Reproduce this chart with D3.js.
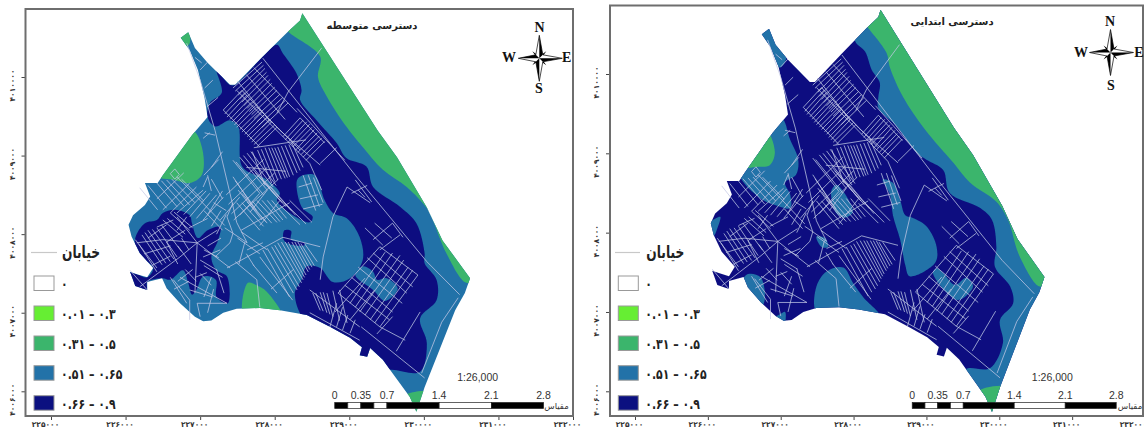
<!DOCTYPE html>
<html>
<head>
<meta charset="utf-8">
<script src="https://cdn.jsdelivr.net/npm/d3@7"></script>
<style>
  html, body { margin: 0; padding: 0; background: #fff; overflow: hidden; }
  text { font-family: "DejaVu Sans", sans-serif; }
</style>
</head>
<body>
<svg id="chart" width="1144" height="429"></svg>
<script>
// ---- data: all map vertices are [km east of 225000, km north of 4006000]
const eastTicks = [0, 1, 2, 3, 4, 5, 6, 7];
const eastLabels = ["۲۲۵۰۰۰", "۲۲۶۰۰۰", "۲۲۷۰۰۰", "۲۲۸۰۰۰", "۲۲۹۰۰۰", "۲۳۰۰۰۰", "۲۳۱۰۰۰", "۲۳۲۰۰۰"];
const northTicks = [0, 1, 2, 3, 4];
const northLabels = ["۴۰۰۶۰۰۰", "۴۰۰۷۰۰۰", "۴۰۰۸۰۰۰", "۴۰۰۹۰۰۰", "۴۰۱۰۰۰۰"];

const classLabels = ["۰", "۰.۰۱ – ۰.۳", "۰.۳۱ – ۰.۵", "۰.۵۱ – ۰.۶۵", "۰.۶۶ – ۰.۹"];
const classColors = ["#ffffff", "#66ee33", "#3bb56c", "#2272a8", "#0b1080"];
const scaleBreaks = [0, 0.175, 0.35, 0.525, 0.7, 1.4, 2.1, 2.8];
const scaleLabels = [0, 0.35, 0.7, 1.4, 2.1, 2.8];

const outline = [[3.37,4.81],[4.38,3.32],[4.64,2.98],[5.04,2.34],[5.25,1.92],[5.62,1.44],[5.55,1.25],[5.42,1.03],[5.21,.53],[5.01,.05],[4.90,-.26],[4.81,-.07],[4.58,.23],[4.45,.40],[4.28,.55],[4.24,.44],[4.14,.46],[4.17,.56],[4.01,.68],[3.74,.82],[3.43,.97],[3.07,1.03],[2.80,1.06],[2.49,1.05],[2.31,1.00],[2.15,.90],[2.04,.89],[1.93,.95],[1.73,1.12],[1.55,1.31],[1.49,1.44],[1.29,1.39],[1.29,1.29],[1.13,1.34],[1.06,1.52],[1.15,1.49],[1.29,1.45],[1.37,1.57],[1.19,1.76],[1.08,1.97],[1.04,2.12],[1.10,2.24],[1.26,2.37],[1.33,2.48],[1.26,2.65],[1.37,2.65],[1.43,2.65],[1.50,2.75],[1.89,3.26],[2.10,3.49],[2.06,3.73],[1.97,4.09],[1.86,4.34],[1.74,4.50],[1.84,4.57],[1.93,4.37],[2.10,4.18],[2.40,3.90],[2.47,3.90],[2.84,4.26],[3.18,4.58],[3.34,4.72]];

// secondary access panel, painted over a blue base
const midNavyMain = [[2.22,4.09],[2.40,3.90],[2.47,3.90],[2.84,4.26],[3.03,4.41],[3.11,4.30],[3.29,4.05],[3.36,3.83],[3.34,3.71],[3.56,3.45],[3.83,3.16],[3.96,2.97],[4.23,2.86],[4.32,2.60],[4.68,2.35],[4.90,2.14],[5.01,1.76],[5.01,1.63],[5.17,1.42],[5.17,1.16],[4.95,.93],[5.04,.61],[4.95,.25],[4.61,.27],[4.45,.30],[4.28,.45],[4.14,.36],[4.01,.58],[3.74,.72],[3.40,.90],[3.27,1.25],[3.36,1.42],[3.43,1.59],[3.61,1.57],[3.78,1.39],[4.01,1.44],[4.18,1.67],[4.14,1.96],[3.97,2.20],[3.78,2.27],[3.67,2.43],[3.54,2.75],[3.38,2.75],[3.30,2.69],[3.36,2.35],[3.51,2.22],[3.47,2.15],[3.20,2.27],[3.03,2.43],[3.07,2.52],[2.90,2.69],[2.57,2.85],[2.51,3.37],[2.40,3.45],[2.20,3.37],[2.10,3.49],[2.13,3.67],[2.29,3.80]];
const midNavyWest = [[1.13,1.95],[1.26,2.14],[1.42,2.18],[1.50,2.27],[1.66,2.31],[1.86,2.24],[1.89,2.14],[1.97,1.95],[2.10,2.05],[2.27,2.09],[2.24,1.92],[2.15,1.71],[2.22,1.54],[2.36,1.46],[2.37,1.12],[2.22,1.20],[2.21,1.42],[2.04,1.46],[1.95,1.29],[1.89,1.23],[1.84,1.38],[1.77,1.54],[1.60,1.42],[1.49,1.44],[1.29,1.39],[1.29,1.25],[1.13,1.30],[1.00,1.52],[1.15,1.49],[1.29,1.45],[1.37,1.57],[1.15,1.76]];
const midNavySmall = [[3.13,2.05],[3.22,2.04],[3.22,1.93],[3.40,1.89],[3.40,1.86],[3.20,1.87],[3.12,1.93]];
const midBluePatch = [[4.18,1.59],[4.08,1.48],[4.32,1.29],[4.48,1.15],[4.65,1.31],[4.50,1.44],[4.37,1.42],[4.32,1.52]];
const midGreenNE = [[3.45,4.90],[4.45,3.40],[4.75,3.00],[5.15,2.36],[5.35,1.92],[5.72,1.44],[5.57,1.38],[5.30,1.76],[5.12,2.18],[5.04,2.33],[4.77,2.60],[4.45,2.82],[4.18,3.11],[3.96,3.37],[3.70,3.75],[3.58,4.00],[3.61,4.26],[3.18,4.58],[3.10,4.70]];
const midGreenNW = [[1.93,3.30],[2.04,3.03],[2.02,2.75],[1.86,2.65],[1.66,2.69],[1.40,2.75],[1.80,3.32]];
const midGreenS = [[2.64,1.38],[2.76,1.35],[2.89,1.27],[3.10,.95],[2.80,.96],[2.58,.96]];
const midGreenSpike = [[1.70,4.55],[1.84,4.62],[1.86,4.43],[1.81,4.39]];
const midGreenTip = [[4.70,-.08],[5.10,-.01],[4.90,-.35]];

// primary access panel, painted over a navy base
const priBlueBand = [[3.02,4.42],[3.10,4.65],[3.37,4.90],[4.45,3.40],[4.75,3.00],[5.15,2.36],[5.35,1.92],[5.72,1.44],[5.65,1.25],[5.52,1.03],[5.31,.53],[5.11,.05],[4.90,-.35],[4.71,-.07],[4.48,.23],[4.57,.29],[4.87,.29],[5.05,.61],[5.01,.90],[5.19,1.11],[5.15,1.32],[4.94,1.57],[4.96,1.82],[4.90,2.16],[4.74,2.31],[4.32,2.50],[4.23,2.79],[4.00,2.92],[3.87,3.00],[3.59,3.34],[3.34,3.57],[3.34,3.71],[3.36,3.89],[3.25,4.05],[3.16,4.28]];
const priGreenNE = [[3.45,4.90],[4.45,3.40],[4.75,3.00],[5.15,2.36],[5.35,1.92],[5.72,1.44],[5.56,1.32],[5.28,1.70],[5.12,2.16],[4.96,2.39],[4.60,2.63],[4.37,2.88],[3.98,3.30],[3.68,3.71],[3.50,4.08],[3.45,4.27],[3.20,4.58],[3.10,4.70]];
const priBlueSpike = [[1.70,4.55],[1.84,4.62],[1.98,4.37],[2.08,4.22],[1.99,4.08],[1.85,4.27]];
const priBlueNW = [[2.01,3.45],[2.13,3.17],[2.24,2.92],[2.21,2.73],[2.06,2.63],[2.13,2.48],[2.13,2.31],[1.92,2.35],[1.76,2.41],[1.58,2.54],[1.45,2.69],[1.40,2.80],[1.80,3.35]];
const priGreenNW = [[1.46,2.83],[1.80,3.28],[1.92,3.02],[1.85,2.85],[1.69,2.83]];
const priBlueWest = [[.98,2.08],[1.17,2.20],[1.14,2.08],[1.07,1.95]];
const priBlueSW = [[1.53,1.47],[1.72,1.44],[1.78,1.15],[1.72,1.05],[1.45,1.25]];
const priBlueSW2 = [[1.99,.97],[2.06,1.00],[2.06,.85],[2.04,.80],[1.88,.90]];
const priBlueSouth = [[2.49,1.00],[2.49,1.32],[2.63,1.51],[2.86,1.56],[2.99,1.37],[3.13,1.19],[3.36,.95],[3.07,.93],[2.80,.96]];
const priBlueDot = [[2.49,1.95],[2.61,1.93],[2.65,1.82],[2.56,1.82]];
const priBlueMid = [[2.70,2.54],[2.77,2.60],[2.99,2.26],[2.88,2.19],[2.77,2.24],[2.70,2.41]];
const priBlueLake = [[3.40,2.67],[3.54,2.63],[3.64,2.41],[3.71,2.22],[3.80,2.19],[4.00,2.08],[4.14,1.82],[4.12,1.62],[3.77,1.45],[3.71,1.59],[3.64,1.91],[3.54,2.22],[3.50,2.48]];
const priBluePatch = [[4.14,1.55],[4.09,1.49],[4.43,1.15],[4.64,1.32],[4.55,1.43],[4.39,1.34],[4.23,1.49]];
const priGreenTip = [[4.68,-.02],[5.11,.05],[4.90,-.35]];

const streets = [
  [[2.84,4.24],[4.08,2.75],[5.04,1.65],[5.48,1.23]],
  [[3.63,4.37],[3.18,3.81],[3.03,3.54]],
  [[5.46,1.19],[5.24,.88],[4.97,.23]],
  [[4.16,.82],[5.01,.17]],
  [[4.63,.51],[4.95,1.01]],
  [[4.37,.73],[4.58,.95]],
  [[4.41,.82],[4.75,.65]],
  // north block
  [[2.44,3.86],[2.83,4.19]], [[2.51,3.77],[2.87,4.11]], [[2.56,3.68],[2.91,4.02]], [[2.63,3.60],[2.96,3.92]],
  [[2.69,3.52],[3.03,3.83]], [[2.76,3.43],[3.11,3.74]], [[2.83,3.36],[3.18,3.67]],
  [[2.47,3.82],[2.85,4.15]], [[2.53,3.72],[2.89,4.06]], [[2.59,3.64],[2.94,3.97]], [[2.66,3.56],[3.00,3.87]],
  [[2.72,3.47],[3.07,3.78]], [[2.79,3.39],[3.14,3.70]],
  [[2.62,4.03],[3.14,3.46]], [[2.72,4.12],[3.30,3.55]], [[2.50,3.95],[2.95,3.42]],
  [[2.49,3.83],[3.47,2.90],[3.63,2.56]],
  [[2.77,3.07],[2.96,2.65]], [[2.87,3.10],[3.04,2.69]], [[2.96,3.10],[3.14,2.71]], [[3.04,3.11],[3.20,2.73]],
  [[3.14,3.13],[3.30,2.78]], [[3.23,3.16],[3.38,2.85]],
  [[2.82,3.08],[3.00,2.67]], [[2.92,3.10],[3.09,2.70]], [[3.00,3.10],[3.17,2.72]], [[3.09,3.12],[3.25,2.75]],
  [[3.19,3.14],[3.34,2.81]], [[2.70,3.05],[2.87,2.62]], [[2.62,2.85],[3.15,2.80]], [[2.72,3.10],[3.42,3.20]],
  [[3.11,3.24],[3.34,3.48]], [[3.18,3.17],[3.43,3.43]], [[3.24,3.11],[3.50,3.36]], [[3.31,3.04],[3.57,3.29]], [[3.38,2.98],[3.63,3.22]],
  [[3.14,3.20],[3.38,3.45]], [[3.21,3.14],[3.47,3.40]], [[3.28,3.07],[3.53,3.33]], [[3.35,3.01],[3.60,3.25]], [[3.42,2.94],[3.67,3.18]],
  [[2.31,3.58],[2.56,3.83]], [[2.36,3.49],[2.63,3.77]], [[2.43,3.43],[2.69,3.68]], [[2.49,3.36],[2.76,3.62]],
  [[2.56,3.30],[2.83,3.55]], [[2.63,3.24],[2.90,3.49]], [[2.69,3.17],[2.96,3.43]], [[2.76,3.11],[3.03,3.36]],
  [[2.33,3.53],[2.60,3.80]], [[2.40,3.46],[2.66,3.72]], [[2.46,3.39],[2.72,3.65]], [[2.53,3.33],[2.80,3.58]],
  [[2.60,3.27],[2.86,3.52]], [[2.66,3.20],[2.93,3.46]], [[2.72,3.14],[3.00,3.39]],
  [[2.31,3.58],[2.80,3.11]], [[2.56,3.83],[3.07,3.32]], [[2.76,3.62],[3.34,3.07]], [[3.07,3.32],[3.61,2.88]],
  [[3.61,2.90],[3.83,3.10]], [[3.34,3.48],[3.67,3.16]], [[3.30,3.60],[3.94,2.94]],
  // long north-south road and the spike
  [[1.82,4.43],[2.00,3.96],[2.20,3.32],[2.40,2.52],[2.49,2.15]],
  [[1.93,4.25],[2.02,4.18]], [[2.00,4.09],[2.10,4.19]], [[2.06,3.86],[2.17,3.96]], [[2.09,3.62],[2.24,3.74]],
  [[2.06,3.29],[2.20,3.26]], [[2.04,3.22],[2.13,3.29]],
  // centre
  [[2.44,2.94],[2.80,2.52]], [[2.53,2.98],[2.90,2.56]], [[2.63,3.03],[2.98,2.60]], [[2.44,2.73],[2.71,2.35]],
  [[2.51,2.56],[2.83,2.18]], [[2.71,2.82],[3.07,2.43]], [[2.27,2.18],[2.53,2.47]], [[2.80,2.52],[2.53,2.24]], [[2.90,2.56],[2.67,2.28]],
  [[2.48,2.92],[2.85,2.50]], [[2.58,3.00],[2.94,2.58]], [[2.68,3.05],[3.02,2.62]], [[2.47,2.68],[2.76,2.30]],
  [[2.56,2.52],[2.88,2.16]], [[2.74,2.78],[3.10,2.40]], [[2.80,2.72],[3.15,2.35]], [[2.88,2.66],[3.22,2.30]], [[2.95,2.60],[3.28,2.24]],
  [[2.35,2.50],[2.85,2.95]], [[2.38,2.38],[2.90,2.85]], [[2.42,2.26],[3.00,2.78]], [[2.45,2.18],[3.05,2.70]],
  [[2.49,2.40],[2.80,2.05]], [[2.63,2.41],[2.90,2.14]], [[2.76,2.43],[3.03,2.15]], [[2.90,2.43],[3.11,2.18]],
  [[2.56,2.40],[2.85,2.10]], [[2.70,2.42],[2.96,2.14]], [[2.83,2.43],[3.07,2.16]], [[2.96,2.43],[3.16,2.20]],
  [[3.13,2.40],[3.42,2.13]], [[2.55,2.05],[3.20,2.40]],
  [[3.07,2.37],[3.34,2.12]], [[3.20,2.43],[3.50,2.15]], [[3.07,2.43],[2.80,2.11]],
  [[3.38,2.75],[3.55,2.30]], [[3.45,2.75],[3.60,2.35]], [[3.52,2.72],[3.65,2.40]], [[3.32,2.60],[3.50,2.65]], [[3.34,2.45],[3.58,2.50]], [[3.38,2.32],[3.64,2.38]],
  [[2.36,1.57],[3.11,1.96],[3.61,1.84]],
  [[2.47,1.65],[2.76,1.42],[2.80,1.07]],
  [[2.80,1.71],[3.24,1.16]], [[2.71,1.61],[3.03,1.25]],
  [[2.84,1.80],[3.20,1.20]], [[2.96,1.84],[3.30,1.29]], [[3.04,1.89],[3.36,1.38]], [[3.14,1.90],[3.40,1.45]],
  [[3.23,1.90],[3.45,1.52]], [[3.31,1.90],[3.50,1.58]],
  [[2.90,1.82],[3.25,1.25]], [[3.00,1.86],[3.33,1.33]], [[3.09,1.90],[3.38,1.42]], [[3.18,1.90],[3.42,1.48]],
  [[3.27,1.90],[3.47,1.55]], [[3.35,1.88],[3.53,1.60]], [[3.40,1.88],[3.57,1.65]], [[2.95,1.30],[3.25,1.55]],
  [[2.63,1.80],[2.84,1.89]], [[2.33,2.08],[2.63,1.89]], [[2.49,2.15],[2.63,1.89]],
  [[2.50,1.95],[2.80,1.75]], [[2.55,2.03],[2.90,1.80]], [[2.62,1.75],[2.72,1.60]], [[2.52,1.62],[2.60,1.90]],
  [[3.97,2.60],[3.78,2.22],[3.65,1.71],[3.61,1.42]],
  [[3.97,2.60],[4.28,2.40]], [[4.08,2.69],[4.30,2.41]], [[4.12,2.56],[4.21,2.47]], [[4.03,2.52],[4.24,2.62]],
  // west quarter
  [[1.15,1.89],[1.50,1.93],[1.96,1.89]],
  [[1.96,1.89],[2.40,1.57]], [[1.96,1.89],[1.93,1.25]], [[1.96,1.89],[1.69,2.22]], [[1.96,1.89],[2.23,2.05]],
  [[1.19,1.33],[1.73,1.71],[1.96,1.89]], [[1.06,1.54],[1.29,1.29]],
  [[1.13,1.93],[1.42,1.57]], [[1.22,1.99],[1.49,1.61]], [[1.30,2.05],[1.60,1.65]], [[1.42,2.08],[1.69,1.71]],
  [[1.18,1.87],[1.42,1.52]], [[1.26,2.02],[1.54,1.63]], [[1.36,2.06],[1.65,1.68]], [[1.48,2.12],[1.75,1.78]],
  [[1.56,2.20],[1.80,2.00]], [[1.65,2.28],[1.90,2.08]], [[1.30,1.95],[1.55,2.12]], [[1.55,1.90],[1.80,2.05]],
  [[1.55,1.90],[1.70,1.62]], [[1.70,1.85],[1.88,1.62]], [[1.75,1.95],[1.85,1.80]], [[1.25,1.75],[1.60,1.85]], [[1.35,1.60],[1.60,1.72]],
  [[1.50,2.18],[1.77,1.96]], [[1.60,2.27],[1.86,2.05]], [[1.42,2.09],[1.64,2.18]], [[1.69,2.05],[1.82,2.22]],
  [[1.60,1.45],[1.82,1.12]], [[1.86,.91],[1.86,1.16],[1.64,1.42]], [[2.00,.95],[1.96,1.12]], [[1.96,1.12],[2.36,1.12]],
  [[1.73,1.45],[2.36,1.12]], [[1.86,1.29],[2.17,1.20]], [[2.00,1.67],[2.23,1.54]], [[2.04,1.71],[2.27,1.80]], [[1.93,1.45],[2.09,1.51]],
  [[2.05,1.80],[2.25,1.70]], [[2.05,1.60],[2.30,1.45]], [[1.80,1.55],[1.95,1.40]], [[2.00,1.50],[2.15,1.35]], [[2.05,1.20],[2.15,1.45]],
  [[2.22,1.55],[2.32,1.25]], [[1.70,1.40],[1.90,1.55]], [[1.65,1.30],[1.85,1.40]], [[2.10,1.00],[2.18,1.30]], [[2.28,1.95],[2.10,1.85]],
  [[2.20,1.71],[2.40,1.89],[2.44,2.01],[2.36,2.22],[2.44,2.40]],
  [[1.19,2.59],[1.43,2.31]], [[1.42,2.65],[1.69,2.35]], [[1.55,2.69],[1.86,2.37]], [[1.69,2.73],[2.00,2.43]],
  [[1.50,2.31],[1.86,2.65]], [[1.69,2.27],[2.04,2.56]], [[1.86,2.22],[2.13,2.52]], [[2.04,2.18],[2.31,2.47]],
  [[1.30,2.62],[1.55,2.33]], [[1.48,2.68],[1.78,2.36]], [[1.62,2.70],[1.93,2.40]], [[1.75,2.70],[2.05,2.42]],
  [[1.42,2.45],[1.78,2.78]], [[1.60,2.27],[1.95,2.60]], [[1.78,2.25],[2.08,2.55]], [[1.95,2.20],[2.22,2.50]],
  [[2.10,2.25],[2.30,2.55]], [[2.15,2.10],[2.28,2.30]], [[2.18,2.40],[2.35,2.30]], [[1.85,2.08],[2.10,2.20]],
  [[2.22,2.00],[2.35,2.25]], [[2.05,2.30],[2.30,2.05]], [[2.15,2.70],[2.30,2.45]], [[2.10,2.75],[2.15,2.55]],
  [[2.25,2.95],[2.05,2.75]], [[2.30,3.05],[2.15,2.85]],
  [[2.04,2.60],[2.10,2.73]], [[2.00,2.43],[2.33,2.11]],
  [[1.60,2.77],[1.66,2.83],[1.72,2.76],[1.66,2.70],[1.60,2.77]],
  // south-east
  [[3.74,.82],[3.83,1.12]], [[3.83,.82],[3.91,1.07]], [[3.91,.78],[3.98,.97]], [[4.01,.74],[4.08,.91]],
  [[3.51,1.25],[3.61,1.03]], [[3.61,1.26],[3.70,1.00]], [[3.70,1.25],[3.78,.95]], [[3.87,1.29],[3.97,.87]],
  [[3.55,1.25],[3.65,1.02]], [[3.65,1.26],[3.74,.98]], [[3.78,1.28],[3.87,.90]],
  [[3.47,1.29],[4.14,.82]], [[3.47,1.00],[4.14,.65]], [[3.81,1.01],[4.21,1.44]], [[4.01,.91],[4.34,1.29]],
  [[4.41,1.84],[4.92,1.48]], [[4.32,1.76],[4.85,1.33]], [[4.24,1.70],[4.77,1.25]], [[4.12,1.58],[4.71,1.12]],
  [[4.03,1.45],[4.58,1.01]], [[3.94,1.35],[4.54,.91]], [[3.85,1.25],[4.41,.82]],
  [[3.85,1.25],[4.41,1.84]], [[4.01,1.12],[4.48,1.77]], [[4.08,1.07],[4.58,1.76]], [[4.14,1.01],[4.68,1.73]],
  [[4.21,.97],[4.73,1.67]], [[4.28,.91],[4.79,1.58]], [[4.34,.87],[4.85,1.54]], [[4.41,.82],[4.92,1.48]],
  [[4.21,2.08],[4.45,1.86]], [[4.34,2.14],[4.57,1.95]], [[4.68,1.99],[4.41,1.80]], [[4.58,2.14],[4.32,1.93]], [[4.58,2.14],[4.72,1.96]]
];

// ---- panels
const green = classColors[2], blue = classColors[3], navy = classColors[4];
const panels = [
  { id: "mid", title: "دسترسی متوسطه", titleX: 372, titleY: 29,
    frame: [25.5, 9, 573, 416],
    xRange: [51, 573], yRange: [391.3, 77],
    legendX: 34, lineX: [31, 57], scaleTextX: 477.7, unitX: 556.5,
    compass: [539.3, 58.3], letters: { N: [539.5, 32], S: [539, 93], W: [509, 62], E: [566.7, 62] },
    base: blue,
    zones: [[midNavyMain, navy], [midNavyWest, navy], [midNavySmall, navy], [midBluePatch, blue],
            [midGreenNE, green], [midGreenNW, green], [midGreenS, green], [midGreenSpike, green], [midGreenTip, green]] },
  { id: "pri", title: "دسترسی ابتدایی", titleX: 952, titleY: 25,
    frame: [610, 5.5, 1143, 416],
    xRange: [635, 1145], yRange: [391.3, 74],
    legendX: 618.3, lineX: [615, 640], scaleTextX: 1052.3, unitX: 1130,
    compass: [1110.5, 52.5], letters: { N: [1110, 26], S: [1111, 90], W: [1081, 57], E: [1139, 57] },
    base: navy,
    zones: [[priBlueBand, blue], [priGreenNE, green], [priBlueSpike, blue], [priBlueNW, blue], [priGreenNW, green],
            [priBlueWest, blue], [priBlueSW, blue], [priBlueSW2, blue], [priBlueSouth, blue], [priBlueDot, blue],
            [priBlueMid, blue], [priBlueLake, blue], [priBluePatch, blue], [priGreenTip, green]] }
];

const svg = d3.select("#chart");
const defs = svg.append("defs");
defs.append("filter").attr("id", "soft").append("feGaussianBlur").attr("stdDeviation", 0.3);
const swatchY = [276, 306, 336, 365.7, 395.7];

function drawPanel(p) {
  const g = svg.append("g");
  const x = d3.scaleLinear().domain([0, 7]).range(p.xRange);
  const y = d3.scaleLinear().domain([0, 4]).range(p.yRange);
  const shape = d3.line().x(d => x(d[0])).y(d => y(d[1]));
  const ring = d3.line().x(d => x(d[0])).y(d => y(d[1])).curve(d3.curveLinearClosed);
  const blob = d3.line().x(d => x(d[0])).y(d => y(d[1])).curve(d3.curveCatmullRomClosed.alpha(0.5));
  const [fx0, fy0, fx1, fy1] = p.frame;

  // map, zones clipped to the city outline
  defs.append("clipPath").attr("id", "clip-" + p.id).append("path").attr("d", ring(outline));
  const map = g.append("g").attr("filter", "url(#soft)");
  map.append("path").attr("d", ring(outline)).attr("fill", p.base);
  const zones = map.append("g").attr("clip-path", `url(#clip-${p.id})`);
  zones.selectAll(".zone").data(p.zones).enter().append("path")
    .attr("class", "zone")
    .attr("d", d => blob(d[0]))
    .attr("fill", d => d[1]);
  map.selectAll(".street").data(streets).enter().append("path")
    .attr("class", "street")
    .attr("d", shape)
    .attr("fill", "none")
    .attr("stroke", "#c4c8e6")
    .attr("stroke-width", 0.75);

  // axes
  const bottom = d3.axisBottom(x).tickValues(eastTicks).tickSize(4).tickFormat((d, i) => eastLabels[i]);
  const ax = g.append("g").attr("transform", `translate(0,${fy1})`).call(bottom);
  ax.select(".domain").remove();
  ax.selectAll("line").attr("stroke", "#444");
  ax.selectAll("text").attr("dx", -6).attr("y", 6).attr("font-size", 7.5).attr("font-weight", "bold").attr("fill", "#333");
  if (p.id === "pri") ax.selectAll("text").filter((d, i) => i === 7).attr("dx", -12);

  const left = d3.axisLeft(y).tickValues(northTicks).tickSize(4).tickFormat((d, i) => northLabels[i]);
  const ay = g.append("g").attr("transform", `translate(${fx0},0)`).call(left);
  ay.select(".domain").remove();
  ay.selectAll("line").attr("stroke", "#444");
  ay.selectAll("text")
    .attr("font-size", 7.5).attr("font-weight", "bold").attr("fill", "#333")
    .attr("text-anchor", "middle").attr("x", 0).attr("y", 0).attr("dy", 0)
    .attr("transform", `translate(-11,8) rotate(-90)`);

  g.append("rect")
    .attr("x", fx0).attr("y", fy0).attr("width", fx1 - fx0).attr("height", fy1 - fy0)
    .attr("fill", "none").attr("stroke", "#6e6e6e").attr("stroke-width", 2);

  g.append("text").attr("x", p.titleX).attr("y", p.titleY)
    .attr("text-anchor", "middle").attr("font-size", 10).attr("font-weight", "bold").attr("fill", "#222")
    .text(p.title);

  // legend
  g.append("line").attr("x1", p.lineX[0]).attr("x2", p.lineX[1]).attr("y1", 252.5).attr("y2", 252.5)
    .attr("stroke", "#c8c8c8").attr("stroke-width", 1.2);
  g.append("text").attr("transform", `translate(${p.legendX + 28},258) scale(0.72,1)`)
    .attr("font-size", 17).attr("font-weight", "bold").attr("fill", "#222").text("خیابان");
  const rows = g.selectAll(".row").data(classLabels).enter().append("g")
    .attr("class", "row")
    .attr("transform", (d, i) => `translate(${p.legendX},${swatchY[i]})`);
  rows.append("rect").attr("width", 20).attr("height", 14.5)
    .attr("fill", (d, i) => classColors[i]).attr("stroke", "#999").attr("stroke-width", 1);
  rows.append("text").attr("transform", "translate(27,13) scale(0.78,1)")
    .attr("direction", "ltr").attr("font-size", 14).attr("font-weight", "bold").attr("fill", "#222")
    .text(d => d);

  // scale bar, same ground units as the map
  const barStart = 3.805;
  const bar = d3.scaleLinear().domain([0, 2.8]).range([x(barStart), x(barStart + 2.8)]);
  d3.pairs(scaleBreaks).forEach((pair, i) => {
    g.append("rect").attr("x", bar(pair[0])).attr("y", 402.5)
      .attr("width", bar(pair[1]) - bar(pair[0])).attr("height", 6)
      .attr("fill", i % 2 === 0 ? "#000" : "#fff").attr("stroke", "#222").attr("stroke-width", 0.7);
  });
  g.selectAll(".bar-label").data(scaleLabels).enter().append("text")
    .attr("class", "bar-label")
    .attr("x", d => bar(d)).attr("y", 399)
    .attr("text-anchor", "middle").attr("font-size", 10.5).attr("fill", "#333")
    .style("font-family", "'Liberation Sans', sans-serif")
    .text(d => d);
  g.append("text").attr("x", p.scaleTextX).attr("y", 381)
    .attr("text-anchor", "middle").attr("font-size", 10.5).attr("fill", "#333")
    .style("font-family", "'Liberation Sans', sans-serif")
    .text("1:26,000");
  g.append("text").attr("x", p.unitX).attr("y", 409)
    .attr("text-anchor", "middle").attr("font-size", 8.5).attr("fill", "#333").text("مقیاس");

  // north arrow
  const c = g.append("g").attr("transform", `translate(${p.compass[0]},${p.compass[1]})`);
  c.append("path").attr("d", "M-7,-7L0,-2L7,-7L2,0L7,7L0,2L-7,7L-2,0Z").attr("fill", "#000");
  c.append("path").attr("d", "M0,-23L3.5,-3.5L23,0L3.5,3.5L0,23L-3.5,3.5L-21,0L-3.5,-3.5Z")
    .attr("fill", "#fff").attr("stroke", "#000").attr("stroke-width", 0.7);
  c.append("path").attr("d", "M0,-23L3.5,-3.5L0,0ZM23,0L3.5,3.5L0,0ZM0,23L-3.5,3.5L0,0ZM-21,0L-3.5,-3.5L0,0Z").attr("fill", "#000");
  Object.keys(p.letters).forEach(k => {
    g.append("text").attr("x", p.letters[k][0]).attr("y", p.letters[k][1])
      .attr("text-anchor", "middle").attr("font-size", 14).attr("font-weight", "bold").attr("fill", "#111")
      .style("font-family", "'Liberation Serif', serif")
      .text(k);
  });
}

panels.forEach(drawPanel);
</script>
</body>
</html>
